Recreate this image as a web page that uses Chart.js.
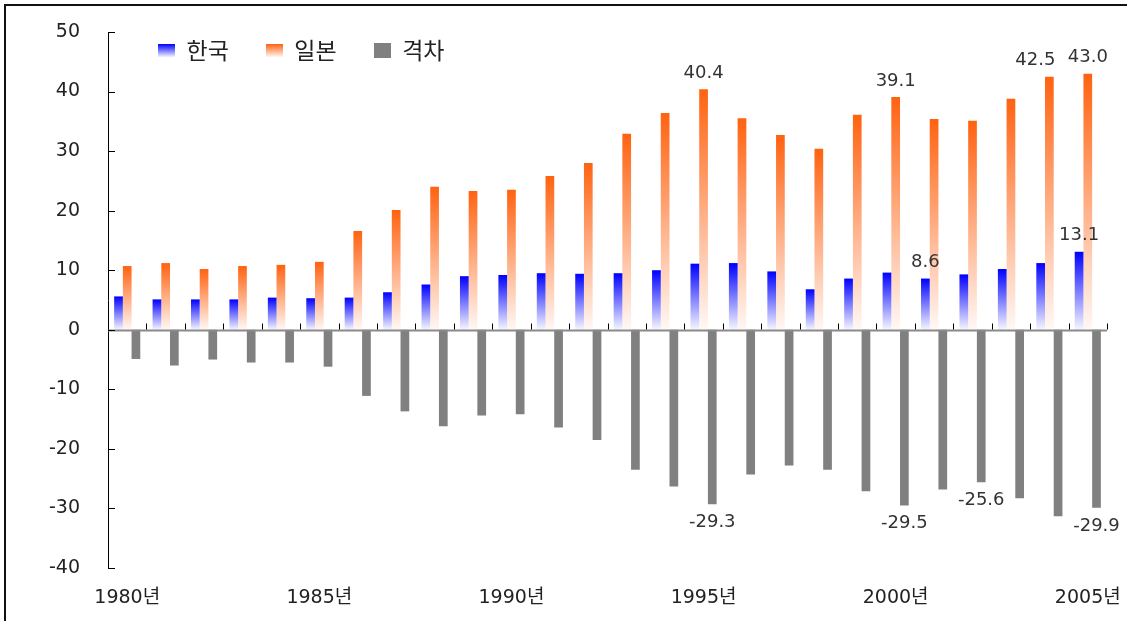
<!DOCTYPE html>
<html>
<head>
<meta charset="utf-8">
<script src="https://cdn.jsdelivr.net/npm/chart.js@4/dist/chart.umd.min.js"></script>
<style>
  html, body { margin: 0; padding: 0; background: #fff; }
  #wrap { width: 1127px; height: 621px; position: relative; }
</style>
</head>
<body>
<div id="wrap"><canvas id="gapChart"></canvas></div>
<script>
// 연도 / 한국 / 일본 / 격차
var years = ['1980년', '1981년', '1982년', '1983년', '1984년', '1985년', '1986년', '1987년', '1988년',
    '1989년', '1990년', '1991년', '1992년', '1993년', '1994년', '1995년', '1996년', '1997년', '1998년',
    '1999년', '2000년', '2001년', '2002년', '2003년', '2004년', '2005년'];
var korea = [5.6, 5.1, 5.1, 5.1, 5.4, 5.3, 5.4, 6.3, 7.6, 9.0, 9.2, 9.5, 9.4, 9.5, 10.0, 11.1,
    11.2, 9.8, 6.8, 8.6, 9.6, 8.6, 9.3, 10.2, 11.2, 13.1];
var japan = [10.7, 11.2, 10.2, 10.7, 10.9, 11.4, 16.6, 20.1, 24.0, 23.3, 23.5, 25.8, 28.0, 32.9,
    36.4, 40.4, 35.5, 32.7, 30.4, 36.1, 39.1, 35.4, 35.1, 38.8, 42.5, 43.0];
var gap = [-4.9, -6.0, -5.0, -5.5, -5.5, -6.2, -11.1, -13.7, -16.2, -14.4, -14.2, -16.4, -18.5,
    -23.5, -26.3, -29.3, -24.3, -22.8, -23.5, -27.1, -29.5, -26.8, -25.6, -28.3, -31.3, -29.9];
var seriesNames = ['한국', '일본', '격차'];
var shownYears = ['1980년', '1985년', '1990년', '1995년', '2000년', '2005년'];
// 값 표시할 연도
var koreaLabeled = ['2001년', '2005년'];
var japanLabeled = ['1995년', '2000년', '2004년', '2005년'];
var gapLabeled = ['1995년', '2000년', '2002년', '2005년'];

var FONT = '"DejaVu Sans", "Noto Sans CJK KR", sans-serif';
var KFONT = '"Noto Sans CJK KR", sans-serif';

function fade(top, bottom) {
    return function (c) {
        var chart = c.chart;
        if (!chart.chartArea || c.type !== 'data') return top;
        var y = chart.scales.y;
        var y1 = y.getPixelForValue(c.raw);
        var y0 = y.getPixelForValue(0);
        if (!isFinite(y1) || y1 === y0) return top;
        var g = chart.ctx.createLinearGradient(0, y1, 0, y0);
        g.addColorStop(0, top);
        g.addColorStop(1, bottom);
        return g;
    };
}

function swatch(top, bottom, w, h) {
    var cv = document.createElement('canvas');
    cv.width = w; cv.height = h;
    var cx = cv.getContext('2d');
    var g = cx.createLinearGradient(0, 0, 0, h);
    g.addColorStop(0, top);
    g.addColorStop(1, bottom);
    cx.fillStyle = g;
    cx.fillRect(0, 0, w, h);
    return cv;
}
var swatches = [
    swatch('#0000ff', '#f4f4ff', 17, 13),
    swatch('#ff6210', '#fff6f2', 17, 13),
    swatch('#808080', '#808080', 17, 15)
];

// 범례를 그림 안으로 (자리 차지 안 함)
var floatLegend = {
    id: 'floatLegend',
    afterInit: function (chart) {
        var lg = chart.legend;
        var fit = lg.fit;
        lg.fit = function () { fit.call(this); this.height = 0; };
    },
    afterLayout: function (chart) {
        var lg = chart.legend;
        lg.left = chart.chartArea.left + 13;
        lg.right = chart.chartArea.right;
        lg.width = lg.right - lg.left;
        lg.top = 2;
        lg.height = 110;
        lg.bottom = 112;
    }
};

var frame = {
    id: 'frame',
    beforeDraw: function (chart) {
        var ctx = chart.ctx;
        ctx.save();
        ctx.fillStyle = '#fff';
        ctx.fillRect(0, 0, chart.width, chart.height);
        ctx.strokeStyle = '#111';
        ctx.lineWidth = 2;
        ctx.beginPath();
        ctx.moveTo(5, chart.height + 5);
        ctx.lineTo(5, 5);
        ctx.lineTo(chart.width + 5, 5);
        ctx.stroke();
        ctx.restore();
    }
};

var axisMarks = {
    id: 'axisMarks',
    afterDatasetsDraw: function (chart) {
        var ctx = chart.ctx, x = chart.scales.x, y = chart.scales.y;
        var y0 = Math.round(y.getPixelForValue(0)) + 0.5;
        ctx.save();
        ctx.strokeStyle = '#8a8a8a';
        ctx.lineWidth = 2;
        ctx.beginPath();
        ctx.moveTo(x.left, y0);
        ctx.lineTo(x.right, y0);
        ctx.stroke();
        ctx.strokeStyle = '#000';
        ctx.lineWidth = 1;
        var catW = x.width / years.length;
        ctx.beginPath();
        for (var k = 0; k <= years.length; k++) {
            var bx = Math.round(x.left + k * catW) + 0.5;
            ctx.moveTo(bx, y0 - 7);
            ctx.lineTo(bx, y0 - 1);
        }
        y.ticks.forEach(function (t) {
            var py = Math.round(y.getPixelForValue(t.value)) + 0.5;
            ctx.moveTo(y.right, py);
            ctx.lineTo(y.right + 7, py);
        });
        ctx.stroke();
        ctx.restore();
    }
};

var valueLabels = {
    id: 'valueLabels',
    afterDatasetsDraw: function (chart) {
        var ctx = chart.ctx;
        var sets = [koreaLabeled, japanLabeled, gapLabeled];
        ctx.save();
        ctx.font = '18px ' + FONT;
        ctx.fillStyle = '#333';
        ctx.textAlign = 'center';
        ctx.textBaseline = 'middle';
        sets.forEach(function (list, d) {
            var meta = chart.getDatasetMeta(d);
            var vals = chart.data.datasets[d].data;
            list.forEach(function (yr) {
                var i = years.indexOf(yr);
                var bar = meta.data[i];
                var v = vals[i];
                var dx = (d === 1 && i === years.length - 2) ? -14 : 0;
                var py = v >= 0 ? bar.y - 16 : bar.y + 18;
                ctx.fillText(v.toFixed(1), bar.x + dx, py);
            });
        });
        ctx.restore();
    }
};

var ctx = document.getElementById('gapChart').getContext('2d');
var gapChart = new Chart(ctx, {
    type: 'bar',
    data: {
        labels: years,
        datasets: [{
            label: seriesNames[0],
            data: korea,
            backgroundColor: fade('#0000ff', '#f6f6ff')
        }, {
            label: seriesNames[1],
            data: japan,
            backgroundColor: fade('#ff6210', '#fff8f5')
        }, {
            label: seriesNames[2],
            data: gap,
            backgroundColor: '#808080'
        }]
    },
    options: {
        responsive: true,
        maintainAspectRatio: false,
        animation: false,
        datasets: {
            bar: { categoryPercentage: 0.68, barPercentage: 1.0 }
        },
        layout: { padding: { left: 0, top: 32, right: 20, bottom: 0 } },
        scales: {
            x: {
                grid: { display: false, drawTicks: true, tickLength: 17 },
                border: { display: false },
                ticks: {
                    autoSkip: false,
                    maxRotation: 0,
                    padding: 2,
                    color: '#222',
                    font: { family: FONT, size: 19 },
                    callback: function (v, i) {
                        return shownYears.indexOf(years[i]) >= 0 ? years[i] : '';
                    }
                },
                afterFit: function (s) { s.height = 53; }
            },
            y: {
                min: -40,
                max: 50,
                grid: { display: false, drawTicks: true, tickLength: 25 },
                border: { display: true, color: '#000', width: 1 },
                ticks: {
                    stepSize: 10,
                    padding: 3,
                    color: '#222',
                    font: { family: FONT, size: 19 }
                },
                afterFit: function (s) { s.width = 108; }
            }
        },
        plugins: {
            legend: {
                position: 'top',
                align: 'start',
                labels: {
                    usePointStyle: true,
                    pointStyleWidth: 17,
                    boxHeight: 13,
                    padding: 37,
                    color: '#222',
                    font: { family: KFONT, size: 23 },
                    generateLabels: function (chart) {
                        return chart.data.datasets.map(function (ds, i) {
                            return {
                                text: ds.label,
                                pointStyle: swatches[i],
                                fillStyle: '#808080',
                                strokeStyle: 'rgba(0,0,0,0)',
                                lineWidth: 0,
                                fontColor: '#222',
                                hidden: false,
                                datasetIndex: i
                            };
                        });
                    }
                }
            },
            tooltip: { enabled: false }
        }
    },
    plugins: [frame, floatLegend, axisMarks, valueLabels]
});
</script>
</body>
</html>
